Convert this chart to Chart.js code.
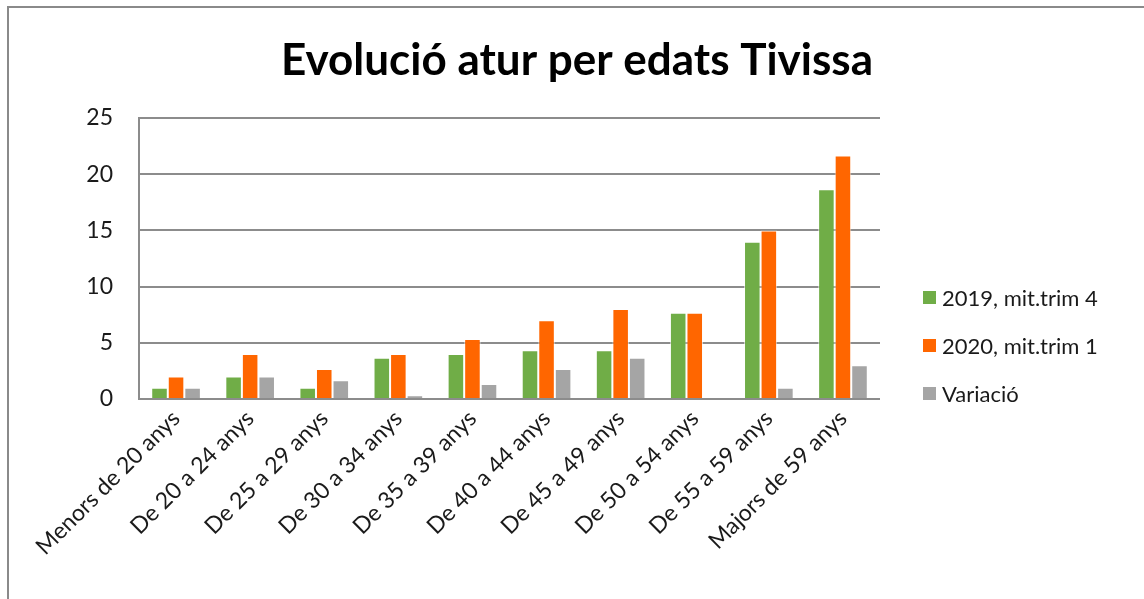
<!DOCTYPE html>
<html>
<head>
<meta charset="utf-8">
<script src="https://cdn.jsdelivr.net/npm/chart.js@4/dist/chart.umd.min.js"></script>
<style>
    html, body { margin: 0; padding: 0; background: #fff; }
    #wrap { width: 1144px; height: 599px; position: relative; }
</style>
</head>
<body>
<div id="wrap"><canvas id="myChart"></canvas></div>
<script>
"use strict"

const chartTitle = "Evolució atur per edats Tivissa"
const ageGroups = ["Menors de 20 anys", "De 20 a 24 anys", "De 25 a 29 anys", "De 30 a 34 anys", "De 35 a 39 anys",
    "De 40 a 44 anys", "De 45 a 49 anys", "De 50 a 54 anys", "De 55 a 59 anys", "Majors de 59 anys"]
const seriesNames = ["2019, mit.trim 4", "2020, mit.trim 1", "Variació"]
const values2019 = [1, 2, 1, 3.67, 4, 4.33, 4.33, 7.67, 14, 18.67]
const values2020 = [2, 4, 2.67, 4, 5.33, 7, 8, 7.67, 15, 21.67]
const variation = [1, 2, 1.67, 0.33, 1.33, 2.67, 3.67, 0, 1, 3]
const yTicks = [0, 5, 10, 15, 20, 25]

const colors = ['#70AD47', '#FF6600', '#A5A5A5']
const textColor = '#1a1a1a'
const gridColor = '#8c8c8c'
const fontFamily = 'Lato, "Open Sans", sans-serif'

// frame, title and legend drawn by hand to sit where the original has them
const framePlugin = {
    id: 'frame',
    afterDraw(chart) {
        let ctx = chart.ctx
        ctx.save()
        ctx.strokeStyle = '#8a8a8a'
        ctx.lineWidth = 2
        ctx.beginPath()
        ctx.moveTo(8, 599)
        ctx.lineTo(8, 7)
        ctx.lineTo(1144, 7)
        ctx.stroke()

        ctx.fillStyle = '#000'
        ctx.font = 'bold 44px ' + fontFamily
        ctx.textAlign = 'center'
        ctx.textBaseline = 'alphabetic'
        ctx.fillText(chartTitle, 577, 75)

        ctx.textAlign = 'left'
        ctx.font = '22px ' + fontFamily
        ctx.textBaseline = 'middle'
        let datasets = chart.data.datasets
        for (let i = 0; i < datasets.length; i++) {
            let y = 298 + i * 48
            ctx.fillStyle = datasets[i].backgroundColor
            ctx.fillRect(923, y - 7, 13, 13)
            ctx.fillStyle = textColor
            ctx.fillText(datasets[i].label, 942, y + 1)
        }
        ctx.restore()
    }
}

let datasets = [values2019, values2020, variation].map(function (vals, i) {
    return {
        label: seriesNames[i],
        data: vals,
        backgroundColor: colors[i],
        borderColor: 'rgba(255,255,255,0.6)',
        borderWidth: { top: 1, left: 1, right: 1, bottom: 0 },
        categoryPercentage: 0.67,
        barPercentage: 1.0
    }
})

var ctx = document.getElementById('myChart').getContext('2d')
var myChart = new Chart(ctx, {
    type: 'bar',
    data: {
        labels: ageGroups,
        datasets: datasets
    },
    options: {
        responsive: true,
        maintainAspectRatio: false,
        animation: false,
        layout: {
            padding: { left: 0, right: 264, top: 118, bottom: 12 }
        },
        plugins: {
            legend: { display: false },
            tooltip: { enabled: false },
            title: { display: false }
        },
        scales: {
            x: {
                grid: { display: false, drawTicks: false },
                border: { display: false },
                ticks: {
                    color: textColor,
                    font: { family: fontFamily, size: 23 },
                    minRotation: 45,
                    maxRotation: 45,
                    autoSkip: false,
                    padding: 6
                },
                afterFit: function (scale) { scale.height = 188 }
            },
            y: {
                min: 0,
                max: 25,
                afterBuildTicks: function (scale) {
                    scale.ticks = yTicks.map(function (v) { return { value: v } })
                },
                grid: { color: gridColor, lineWidth: 2, drawTicks: false },
                border: { display: true, color: gridColor, width: 2 },
                ticks: {
                    color: textColor,
                    font: { family: fontFamily, size: 23 },
                    padding: 26
                },
                afterFit: function (scale) { scale.width = 139 }
            }
        }
    },
    plugins: [framePlugin]
})
</script>
</body>
</html>
